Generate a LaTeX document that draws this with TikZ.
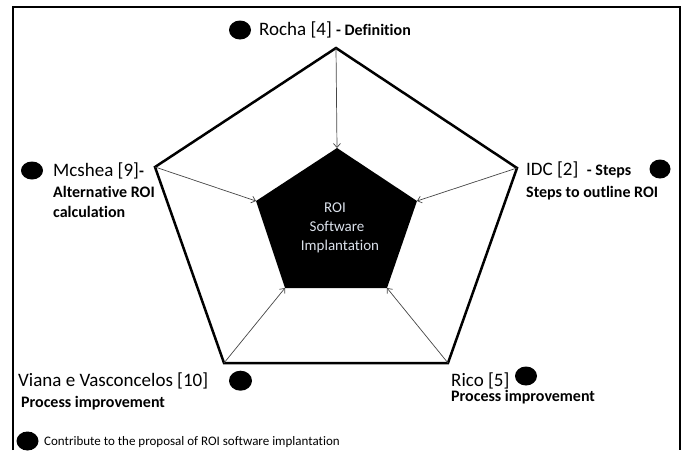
\documentclass[tikz,border=0pt]{standalone}
\usepackage{fontspec}
\setmainfont{Carlito}[Ligatures=NoCommon]
\usetikzlibrary{arrows.meta}
\definecolor{innertext}{RGB}{218,224,234}
\definecolor{arrowgray}{RGB}{70,70,70}
\tikzset{
  reg/.style={anchor=base west,inner sep=0pt,font=\fontsize{19}{22}\selectfont},
  bld/.style={anchor=base west,inner sep=0pt,font=\bfseries\fontsize{16}{19}\selectfont},
  inner/.style={anchor=base,inner sep=0pt,text=innertext,font=\fontsize{15}{18}\selectfont},
  legend/.style={anchor=base west,inner sep=0pt,font=\fontsize{13}{15}\selectfont},
  blob/.style={fill=black},
  link/.style={draw=arrowgray,line width=0.7pt,-{Straight Barb[length=4pt,width=7pt]}},
  outline/.style={line width=2.5pt,line join=miter}
}
\begin{document}
\begin{tikzpicture}[x=1pt,y=-1pt]
\useasboundingbox (0,0) rectangle (685,450);
% frame
\draw[outline] (13,450) -- (13,7) -- (680,7) -- (680,450);
% outer pentagon vertices
\coordinate (oT) at (336,48);
\coordinate (oL) at (155,167);
\coordinate (oR) at (517,168);
\coordinate (oBL) at (224,363);
\coordinate (oBR) at (448,363);
% inner pentagon vertices
\coordinate (iT) at (337,148);
\coordinate (iL) at (256,201);
\coordinate (iR) at (417,201);
\coordinate (iBL) at (285,288);
\coordinate (iBR) at (387,288);
\draw[outline] (oT) -- (oR) -- (oBR) -- (oBL) -- (oL) -- cycle;
\fill (iT) -- (iR) -- (iBR) -- (iBL) -- (iL) -- cycle;
% connectors
\draw[link] (oT) -- (iT);
\draw[link] (oL) -- (iL);
\draw[link] (oR) -- (iR);
\draw[link] (oBL) -- (iBL);
\draw[link] (oBR) -- (iBR);
% centre text
\node[inner] (c1) at (335,212) {ROI};
\node[inner] (c2) at (337,231) {Software};
\node[inner] (c3) at (340,250.5) {Implantation};
% Rocha
\fill[blob] (240,30) ellipse [x radius=11,y radius=9.5];
\node[reg] (rocha) at (259,35) {Rocha [4] {\bfseries\fontsize{16}{19}\selectfont - Definition}};
% Mcshea
\fill[blob] (32,170.5) ellipse [x radius=11,y radius=9];
\node[reg] (mcshea) at (53,176) {Mcshea [9]{\bfseries\fontsize{16}{19}\selectfont -}};
\node[bld] (mcshea2) at (53,197) {Alternative ROI};
\node[bld] (mcshea3) at (53,217) {calculation};
% IDC
\fill[blob] (660,169) ellipse [x radius=10.5,y radius=9.5];
\node[reg] (idc) at (526,175) {IDC [2]\ \ {\bfseries\fontsize{16}{19}\selectfont - Steps}};
\node[bld] (idc2) at (526,197) {Steps to outline ROI};
% Viana
\fill[blob] (240.5,380.7) ellipse [x radius=11.5,y radius=10];
\node[reg] (viana) at (18,386) {Viana e Vasconcelos [10]};
\node[bld] (viana2) at (21,407) {Process improvement};
% Rico
\fill[blob] (526,376) ellipse [x radius=11,y radius=9.5];
\node[reg] (rico) at (451,386) {Rico [5]};
\node[bld] (rico2) at (451,401.5) {Process improvement};
% legend
\fill[blob] (27.5,441) ellipse [x radius=11,y radius=9.5];
\node[legend] (leg) at (44,445) {Contribute to the proposal of ROI software implantation};
\end{tikzpicture}
\end{document}
